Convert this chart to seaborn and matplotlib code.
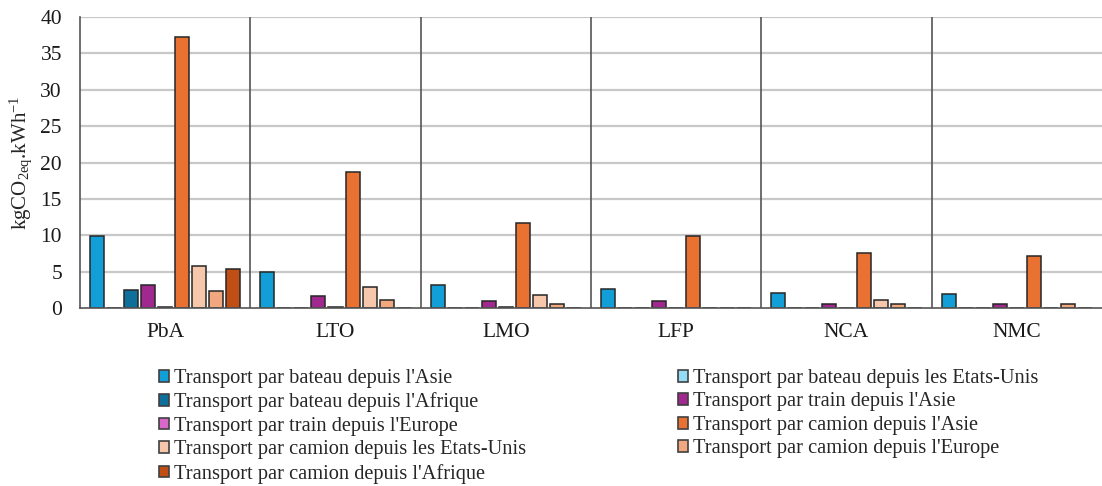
import matplotlib
matplotlib.use("Agg")
import matplotlib.pyplot as plt
import seaborn as sns
import pandas as pd
from matplotlib.patches import Patch

categories = ["PbA", "LTO", "LMO", "LFP", "NCA", "NMC"]
series = [
    "Transport par bateau depuis l'Asie",
    "Transport par bateau depuis les Etats-Unis",
    "Transport par bateau depuis l'Afrique",
    "Transport par train depuis l'Asie",
    "Transport par train depuis l'Europe",
    "Transport par camion depuis l'Asie",
    "Transport par camion depuis les Etats-Unis",
    "Transport par camion depuis l'Europe",
    "Transport par camion depuis l'Afrique",
]
bateau_asie = [9.9, 4.9, 3.1, 2.6, 2.0, 1.9]
bateau_usa = [0, 0, 0, 0, 0, 0]
bateau_afrique = [2.5, 0, 0, 0, 0, 0]
train_asie = [3.2, 1.6, 1.0, 0.9, 0.6, 0.6]
train_europe = [0.2, 0.1, 0.1, 0, 0.05, 0.05]
camion_asie = [37.3, 18.7, 11.7, 9.9, 7.5, 7.2]
camion_usa = [5.8, 2.9, 1.8, 0, 1.1, 0]
camion_europe = [2.3, 1.1, 0.6, 0, 0.5, 0.5]
camion_afrique = [5.4, 0, 0, 0, 0, 0]
values = [bateau_asie, bateau_usa, bateau_afrique, train_asie, train_europe,
          camion_asie, camion_usa, camion_europe, camion_afrique]
colors = ["#129fd8", "#94dbf6", "#0f6f9b", "#a0288f", "#d966c9",
          "#e97132", "#f6c7aa", "#f2a87f", "#c04f15"]
yticks = [0, 5, 10, 15, 20, 25, 30, 35, 40]

rows = []
for s, vals in zip(series, values):
    for c, v in zip(categories, vals):
        rows.append({"cat": c, "series": s, "val": v})
df = pd.DataFrame(rows)

sns.set_theme(style="white")
plt.rcParams["font.family"] = ["Liberation Serif", "DejaVu Serif"]
plt.rcParams["mathtext.fontset"] = "custom"
plt.rcParams["mathtext.rm"] = "Liberation Serif"
plt.rcParams["mathtext.it"] = "Liberation Serif:italic"

fig = plt.figure(figsize=(11.02, 4.86), dpi=100)
ax = fig.add_axes([80 / 1102, 1 - 308 / 486, 1 - 80 / 1102, (308 - 17) / 486])

sns.barplot(data=df, x="cat", y="val", hue="series", order=categories,
            hue_order=series, palette=colors, saturation=1, width=0.9, ax=ax,
            edgecolor="#262626", linewidth=1.1, legend=False, errorbar=None)

for p in ax.patches:
    w = p.get_width()
    nw = w * 14 / 17
    p.set_x(p.get_x() + (w - nw) / 2)
    p.set_width(nw)
    p.set_zorder(3)

ax.set_ylim(0, 40)
ax.set_xlim(-0.5, len(categories) - 0.5)
ax.set_yticks(yticks)
ax.set_yticklabels([str(t) for t in yticks])
ax.tick_params(axis="both", length=0, labelsize=15.5, colors="#1a1a1a")
ax.tick_params(axis="x", pad=11)
ax.tick_params(axis="y", pad=13)
for t in yticks[1:]:
    ax.axhline(t, color="#c8c8c8", lw=1.6, zorder=1)
for i in range(1, len(categories)):
    ax.axvline(i - 0.5, color="#555555", lw=1.2, zorder=2)
for side in ["top", "right"]:
    ax.spines[side].set_visible(False)
for side in ["left", "bottom"]:
    ax.spines[side].set_color("#555555")
    ax.spines[side].set_linewidth(1.2)
    ax.spines[side].set_zorder(4)
ax.set_xlabel("")
ax.set_ylabel(r"kgCO$_{\mathrm{2eq}}$.kWh$^{\mathrm{-1}}$", fontsize=15)
ax.yaxis.set_label_coords(-46 / 1022, 0.5)

handles = [Patch(facecolor=c, edgecolor="#404040", linewidth=1.2) for c in colors]
left_idx = [0, 2, 4, 6, 8]
right_idx = [1, 3, 5, 7]
common = dict(frameon=False, fontsize=14.7, handlelength=0.5, handleheight=0.5,
              handletextpad=0.25, labelspacing=0.22, borderpad=0, borderaxespad=0,
              loc="upper left")
l1 = fig.legend([handles[i] for i in left_idx], [series[i] for i in left_idx],
                bbox_to_anchor=(159 / 1102, 1 - 369 / 486), **common)
l2 = fig.legend([handles[i] for i in right_idx], [series[i] for i in right_idx],
                bbox_to_anchor=(678 / 1102, 1 - 369 / 486), **common)

fig.savefig("out.png", dpi=100)
